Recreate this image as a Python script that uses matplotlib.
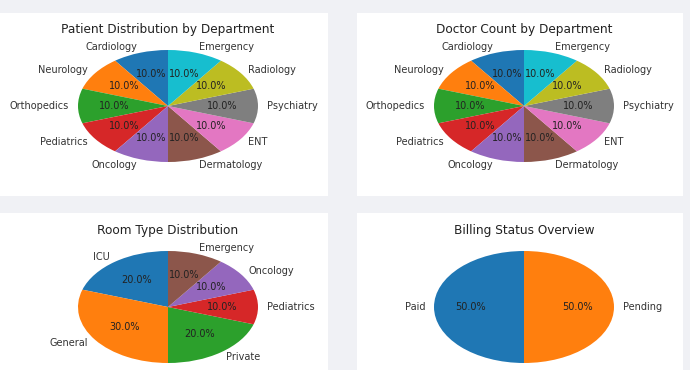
import matplotlib
matplotlib.use("Agg")
import matplotlib.pyplot as plt
from matplotlib.patches import Rectangle

departments = ["Cardiology", "Neurology", "Orthopedics", "Pediatrics", "Oncology",
               "Dermatology", "ENT", "Psychiatry", "Radiology", "Emergency"]
patient_counts = [1, 1, 1, 1, 1, 1, 1, 1, 1, 1]
doctor_counts = [1, 1, 1, 1, 1, 1, 1, 1, 1, 1]

room_types = ["ICU", "General", "Private", "Pediatrics", "Oncology", "Emergency"]
room_counts = [2, 3, 2, 1, 1, 1]

billing_status = ["Paid", "Pending"]
billing_counts = [1, 1]

W, H = 690, 370
fig = plt.figure(figsize=(W / 100, H / 100), dpi=100)
fig.patch.set_facecolor("#f0f1f5")

# white panels (pixel coords: x0, y0_top, x1, y1_bottom)
panels = [(0, 13, 328, 196), (357, 13, 683, 196), (0, 213, 328, 370), (357, 213, 683, 370)]
for x0, y0, x1, y1 in panels:
    fig.add_artist(Rectangle((x0 / W, 1 - y1 / H), (x1 - x0) / W, (y1 - y0) / H,
                             transform=fig.transFigure, facecolor="white",
                             edgecolor="none", zorder=0))

def make_ax(cx, cy):
    aw, ah = 225, 140
    ax = fig.add_axes([(cx - aw / 2) / W, 1 - (cy + ah / 2) / H, aw / W, ah / H])
    return ax

charts = [
    (168, 106, departments, patient_counts, "Patient Distribution by Department"),
    (524, 106, departments, doctor_counts, "Doctor Count by Department"),
    (168, 307, room_types, room_counts, "Room Type Distribution"),
    (524, 307, billing_status, billing_counts, "Billing Status Overview"),
]

for cx, cy, labels, vals, title in charts:
    ax = make_ax(cx, cy)
    wedges, texts, autotexts = ax.pie(vals, labels=labels, autopct="%1.1f%%",
                                      startangle=90,
                                      textprops={"fontsize": 7, "color": "#333333"})
    for t in autotexts:
        t.set_color("#222222")
    ax.set_aspect("auto")
    ax.set_xlim(-1.25, 1.25)
    ax.set_ylim(-1.25, 1.25)
    ax.set_title(title, fontsize=8.7, color="#222222", pad=2.5)

fig.savefig("out.png", dpi=100)
